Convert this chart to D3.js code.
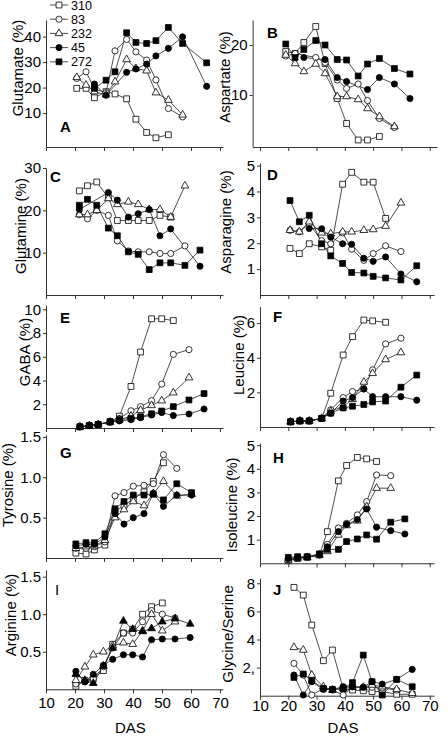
<!DOCTYPE html>
<html><head><meta charset="utf-8">
<script src="https://cdn.jsdelivr.net/npm/d3@7"></script>
<style>body{margin:0;background:#fff} text{font-family:"Liberation Sans",Arial,sans-serif;fill:#000}</style>
</head><body><svg id="c" width="448" height="736"></svg>
<script>
// ---------------- DATA ----------------
const lines = ["310", "83", "232", "45", "272"];
const dasTicks = [10, 20, 30, 40, 50, 60, 70];

const dasA = [20.6, 23.8, 26.7, 30.7, 33.8, 37.8, 41.0, 44.7, 47.9, 52.2, 57.1, 65.4];
const glutamate = [
  [19.7, 19.7, 16.0, 18.4, 17.5, 15.6, 7.6, 2.4, 0.3, 1.5, null, null],
  [23.6, 26.2, 19.5, 18.0, 34.4, 38.9, 34.0, 30.8, 23.0, 11.8, 8.5, null],
  [24.0, 21.0, 18.4, 17.2, 22.3, 31.0, 27.5, 26.6, 18.0, 15.1, 9.3, null],
  [null, null, 21.4, 17.0, null, 26.0, 27.3, 29.2, 32.4, 35.4, 39.9, 20.5],
  [null, null, 19.7, 22.9, 26.2, 41.5, 37.7, 37.3, 38.4, 43.6, 37.3, 29.7]
];
const ticksA = [10, 20, 30, 40];

const dasB = [19.1, 22.4, 25.5, 29.7, 33.0, 37.3, 40.6, 44.7, 48.0, 52.2, 57.5, 63.0];
const aspartate = [
  [18.7, 18.3, 20.5, 23.7, 16.3, 9.3, 4.3, 1.0, 1.0, 1.7, null, null],
  [17.8, 18.3, null, 17.5, 16.5, 13.0, 11.3, 12.2, 8.9, 5.3, 3.5, null],
  [18.0, 16.3, 14.7, 16.2, 14.3, 9.7, 9.7, 9.1, 7.3, 5.7, 3.7, null],
  [null, null, 17.5, null, 17.1, 13.5, 12.7, null, 11.1, 13.5, 12.2, 9.3],
  [20.2, 17.5, 19.1, 20.9, 20.0, 17.1, 17.0, 13.8, 16.2, 17.3, 15.3, 14.2]
];
const ticksB = [10, 20];

const dasC = [21.5, 24.3, 27.5, 31.5, 34.6, 38.4, 41.8, 45.6, 49.3, 53.0, 57.9, 63.1];
const glutamine = [
  [24.6, 25.8, 26.7, 23.0, 17.6, 17.6, 17.6, 17.6, 18.8, 18.4, null, null],
  [19.0, 18.0, 20.0, 18.8, 12.8, 10.4, 10.2, 10.2, 9.8, 9.8, 11.6, null],
  [19.0, 19.0, 20.0, 22.8, 21.4, 22.0, 21.4, 20.2, 20.2, 18.4, 25.8, null],
  [20.2, null, null, 24.2, 22.4, 18.4, 19.2, 20.2, 14.0, 15.6, null, 6.8],
  [21.2, 22.6, 21.2, 15.8, 14.0, 10.2, 9.6, 6.0, 7.6, 7.6, 7.0, 10.6]
];
const ticksC = [10, 20, 30];

const dasD = [20.6, 23.9, 27.4, 31.8, 35.0, 39.2, 42.4, 46.7, 50.0, 54.4, 59.8, 65.4];
const asparagine = [
  [1.8, 1.6, 1.98, 1.86, 1.73, 4.28, 4.74, 4.36, 4.36, 2.96, null, null],
  [2.5, 2.44, 2.75, 2.1, 1.98, 2.4, 1.77, 1.34, 1.6, 1.9, 1.68, null],
  [2.5, 2.44, 2.83, 2.4, 2.37, 2.44, 2.44, 2.5, 2.53, 2.66, 3.56, null],
  [null, null, 2.57, 2.56, 2.24, 1.98, 1.96, 1.42, 1.3, 1.47, 0.81, 0.51],
  [3.65, 2.83, 3.08, 1.98, 1.51, 1.22, 0.87, 0.85, 0.72, 0.66, 0.58, 1.13]
];
const ticksD = [1, 2, 3, 4, 5];

const dasE = [21.7, 24.9, 28.0, 32.1, 35.3, 39.3, 42.6, 46.4, 49.9, 53.9, 59.3, 64.5];
const gaba = [
  [0.1, 0.2, 0.3, 0.5, 1.0, 3.5, 6.4, 9.2, 9.2, 9.05, null, null],
  [0.1, 0.2, 0.3, 0.5, 0.8, 1.45, 1.8, 2.3, 3.7, 6.2, 6.6, null],
  [0.1, 0.2, 0.3, 0.5, 0.7, 1.0, 1.5, 1.9, 2.3, 2.97, 4.24, null],
  [0.1, 0.2, 0.3, 0.5, 0.6, 0.7, 0.87, 1.1, 1.3, 1.05, 1.18, 1.6],
  [0.1, 0.2, 0.3, 0.55, 0.7, 0.8, 0.95, 1.2, 1.43, 1.8, 2.36, 2.9]
];
const ticksE = [2, 4, 6, 8, 10];

const dasF = [20.8, 24.1, 27.4, 31.8, 35.0, 39.4, 42.7, 46.7, 49.8, 54.4, 59.8, 65.4];
const leucine = [
  [0.3, 0.35, 0.35, 0.5, 1.95, 4.16, 5.22, 6.18, 6.13, 6.05, null, null],
  [0.3, 0.35, 0.35, 0.5, 1.0, 1.7, 2.05, 2.2, 3.3, 4.8, 5.13, null],
  [0.3, 0.35, 0.35, 0.5, 0.9, 1.2, 1.6, 2.6, 3.1, 3.9, 4.3, null],
  [0.3, 0.35, 0.35, 0.5, 0.8, 1.5, 1.7, 2.2, 1.75, 1.75, 1.75, 1.55],
  [0.3, 0.35, 0.35, 0.5, 0.8, 1.1, 1.2, 1.3, 1.45, 1.5, 2.3, 3.0]
];
const ticksF = [2, 4, 6];

const dasG = [20.3, 23.8, 26.7, 30.3, 33.8, 36.9, 40.1, 43.8, 47.0, 50.5, 55.1, 60.2];
const tyrosine = [
  [0.06, 0.05, 0.1, 0.16, 0.58, 0.65, 0.73, 0.82, 0.95, 1.18, null, null],
  [0.12, 0.12, 0.14, 0.2, 0.77, 0.81, 0.89, 0.9, 0.92, 1.28, 1.11, null],
  [0.12, 0.14, 0.15, 0.22, 0.5, 0.6, 0.7, 0.65, 0.8, 0.95, 0.77, 0.79],
  [0.15, 0.17, 0.17, 0.26, 0.55, 0.42, 0.5, 0.55, 0.8, 0.64, 0.78, 0.78],
  [0.175, 0.19, 0.19, 0.3, 0.61, 0.7, 0.78, 0.78, 0.79, 0.72, 0.92, 0.81]
];
const ticksG = [0.5, 1.0, 1.5];

const dasH = [20.0, 23.3, 26.7, 31.0, 33.8, 37.7, 40.6, 44.4, 47.7, 51.2, 56.2, 61.2];
const isoleucine = [
  [0.11, 0.2, 0.25, 0.35, 1.34, 3.49, 4.14, 4.48, 4.42, 4.31, null, null],
  [0.15, 0.22, 0.25, 0.35, 0.8, 1.5, 1.69, 2.05, 2.61, 3.74, 3.71, null],
  [0.15, 0.22, 0.25, 0.35, 0.5, 1.2, 1.6, 1.8, 2.4, 3.18, 3.18, null],
  [0.2, 0.25, 0.27, 0.38, 0.7, 1.34, 1.65, 1.85, 2.3, 1.53, 1.38, 1.24],
  [0.25, 0.28, 0.28, 0.4, 0.59, 0.59, 0.92, 1.03, 1.2, 1.02, 1.74, 1.88]
];
const ticksH = [1, 2, 3, 4, 5];

const dasI = [20.3, 23.4, 26.3, 29.8, 33.0, 36.7, 39.9, 43.3, 46.4, 50.1, 54.5, 59.7];
const arginine = [
  [0.04, 0.12, 0.14, 0.25, 0.6, 0.75, 0.8, 1.0, 1.1, 1.15, null, null],
  [0.07, 0.1, 0.14, 0.3, 0.55, 0.75, 0.75, 0.9, 1.05, 1.0, 0.95, null],
  [0.12, 0.3, 0.46, 0.5, 0.58, 0.62, 0.6, 0.78, 1.0, 0.78, 0.9, null],
  [0.24, 0.1, 0.2, 0.32, 0.4, 0.46, 0.46, 0.43, 0.66, 0.67, 0.67, 0.69],
  [0.2, 0.12, 0.08, 0.31, 0.55, 0.91, 0.8, 0.77, 0.81, 0.9, 0.94, 0.87]
];
const ticksI = [0.5, 1.0, 1.5];

const dasJ = [22.0, 25.3, 28.3, 32.4, 35.6, 39.4, 42.7, 46.5, 49.6, 53.2, 58.3, 63.8];
const glySer = [
  [7.71, 7.16, 5.03, 2.49, 3.25, 0.5, 0.4, 0.35, 0.3, 0.3, 0.1, 0.1],
  [2.3, 1.47, 0.05, 0.52, 0.4, 0.05, 0.64, 0.6, 0.6, 0.55, 0.4, null],
  [3.44, 3.25, 1.47, 0.64, 0.4, 0.52, 0.6, 0.6, 0.76, 0.64, 0.45, 0.17],
  [1.47, 0.05, 1.0, 0.45, 0.45, 0.64, 0.64, 0.6, 1.0, 0.83, 1.16, 1.87],
  [1.3, 1.54, 1.07, 0.52, 0.45, 0.52, 0.93, 2.89, 1.0, 0.05, 1.16, 0.64]
];
const ticksJ = [2, 4, 6, 8];
const tickLabelsJ = ["2,", "4", "6", "8"];

// ---------------- LAYOUT ----------------
const svg = d3.select("#c");
svg.append("rect").attr("width", 448).attr("height", 736).attr("fill", "#fff");

const colX = [
  d3.scaleLinear().domain([10, 71]).range([46, 222.9]),
  d3.scaleLinear().domain([10, 71.5]).range([260, 434])
];
// panel B's axes start a little further left in the reference
const xB = d3.scaleLinear().domain([7.4, 72.5]).range([252.6, 436.8]);

const panels = [
  {letter: "A", title: "Glutamate (%)", das: dasA, vals: glutamate, ticks: ticksA, col: 0, yd: [-3.3, 46.5], yr: [147, 20], tx: 19, ty: 68, lx: 60, ly: 132},
  {letter: "B", title: "Aspartate (%)", das: dasB, vals: aspartate, ticks: ticksB, col: 1, xs: xB, yd: [-0.4, 25], yr: [147, 20], tx: 226, ty: 77, lx: 267, ly: 38},
  {letter: "C", title: "Glutamine (%)", das: dasC, vals: glutamine, ticks: ticksC, col: 0, yd: [0, 30], yr: [295, 168], tx: 22, ty: 226, lx: 50, ly: 182},
  {letter: "D", title: "Asparagine (%)", das: dasD, vals: asparagine, ticks: ticksD, col: 1, yd: [0, 5.1], yr: [295, 163], tx: 227, ty: 222, lx: 267, ly: 180},
  {letter: "E", title: "GABA (%)", das: dasE, vals: gaba, ticks: ticksE, col: 0, yd: [0, 10.36], yr: [428, 305], tx: 26, ty: 352, lx: 60, ly: 323},
  {letter: "F", title: "Leucine (%)", das: dasF, vals: leucine, ticks: ticksF, col: 1, yd: [0, 6.95], yr: [427, 306.7], tx: 240, ty: 355, lx: 273, ly: 322},
  {letter: "G", title: "Tyrosine (%)", das: dasG, vals: tyrosine, ticks: ticksG, col: 0, yd: [0, 1.524], yr: [558, 435], tx: 9, ty: 485, lx: 60, ly: 458, fmt: d3.format(".1f")},
  {letter: "H", title: "Isoleucine (%)", das: dasH, vals: isoleucine, ticks: ticksH, col: 1, yd: [0, 5.08], yr: [563.3, 443.3], tx: 233, ty: 505, lx: 273, ly: 463},
  {letter: "I", title: "Arginine (%)", das: dasI, vals: arginine, ticks: ticksI, col: 0, yd: [0, 1.589], yr: [689.3, 570], tx: 12, ty: 615, lx: 55, ly: 595, fmt: d3.format(".1f"), bottom: true, altLast: true, pad: 4},
  {letter: "J", title: "Glycine/Serine", das: dasJ, vals: glySer, ticks: ticksJ, col: 1, yd: [0, 8.356], yr: [695.7, 578.3], tx: 229, ty: 634, lx: 273, ly: 595, labels: tickLabelsJ, bottom: true, pad: 1}
];

// marker per series: [shape, filled]
const markers = [["square", false], ["circle", false], ["triangle", false], ["circle", true], ["square", true]];
const symType = {square: d3.symbolSquare, circle: d3.symbolCircle, triangle: d3.symbolTriangle};
const symSize = {square: 34, circle: 30, triangle: 26};

function drawMarker(g, shape, filled, x, y) {
  g.append("path")
    .attr("d", d3.symbol().type(symType[shape]).size(symSize[shape])())
    .attr("transform", `translate(${x},${y})`)
    .attr("fill", filled ? "#000" : "#fff")
    .attr("stroke", "#000").attr("stroke-width", 0.8);
}

panels.forEach(p => {
  const x = colX[p.col];
  const xAxisScale = p.xs || x;
  const y = d3.scaleLinear().domain(p.yd).range(p.yr);
  const g = svg.append("g");

  // x axis
  const xa = d3.axisBottom(xAxisScale).tickValues(dasTicks).tickSize(4).tickSizeOuter(0)
    .tickPadding(p.pad !== undefined ? p.pad : 5)
    .tickFormat(p.bottom ? d3.format("d") : () => "");
  const gx = g.append("g").attr("transform", `translate(0,${p.yr[0]})`).call(xa);
  gx.selectAll("text").attr("font-size", 15).attr("font-family", "Liberation Sans, Arial");
  gx.selectAll("path,line").attr("stroke", "#333");

  // y axis
  const ya = d3.axisLeft(y).tickValues(p.ticks).tickSize(3).tickSizeOuter(0).tickPadding(2)
    .tickFormat((d, i) => p.labels ? p.labels[i] : (p.fmt ? p.fmt(d) : d));
  const gy = g.append("g").attr("transform", `translate(${xAxisScale.range()[0]},0)`).call(ya);
  gy.selectAll("text").attr("font-size", 15).attr("font-family", "Liberation Sans, Arial");
  gy.selectAll("path,line").attr("stroke", "#333");

  // title
  g.append("text").attr("transform", `translate(${p.tx},${p.ty}) rotate(-90)`)
    .attr("text-anchor", "middle").attr("dominant-baseline", "middle")
    .attr("font-size", 15).text(p.title);

  // letter
  g.append("text").attr("x", p.lx).attr("y", p.ly).attr("font-size", 15)
    .attr("font-weight", p.letter === "I" ? "normal" : "bold").text(p.letter);

  // series
  const line = d3.line().x(d => x(d[0])).y(d => y(d[1]));
  p.vals.forEach((vals, si) => {
    const pts = p.das.map((d, i) => [d, vals[i]]).filter(d => d[1] !== null);
    g.append("path").attr("d", line(pts)).attr("fill", "none")
      .attr("stroke", "#222").attr("stroke-width", 0.8);
  });
  p.vals.forEach((vals, si) => {
    let [shape, filled] = markers[si];
    if (p.altLast && si === 4) shape = "triangle";
    p.das.forEach((d, i) => {
      if (vals[i] !== null) drawMarker(g, shape, filled, x(d), y(vals[i]));
    });
  });

  if (p.bottom) {
    g.append("text").attr("x", (x.range()[0] + x.range()[1]) / 2 - 4).attr("y", 733)
      .attr("text-anchor", "middle").attr("font-size", 15).text("DAS");
  }
});

// legend
const lg = svg.append("g");
lines.forEach((name, i) => {
  const yy = 5 + i * 14.2;
  lg.append("line").attr("x1", 50).attr("x2", 68).attr("y1", yy).attr("y2", yy)
    .attr("stroke", "#222").attr("stroke-width", 0.8);
  drawMarker(lg, markers[i][0], markers[i][1], 59, yy);
  lg.append("text").attr("x", 71).attr("y", yy + 4.5).attr("font-size", 12.5).text(name);
});
</script></body></html>
